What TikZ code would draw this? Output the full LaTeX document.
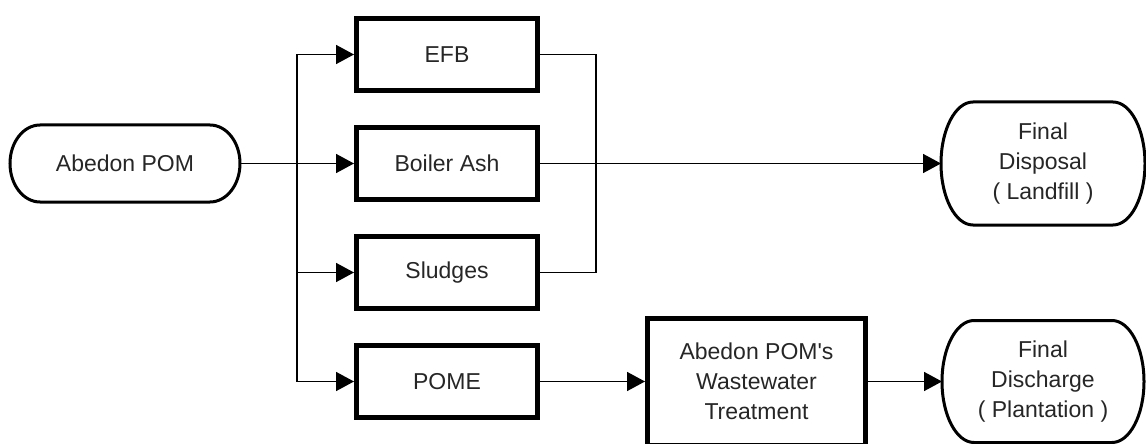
\documentclass[tikz,border=0pt]{standalone}
\usepackage{fontspec}
\setmainfont{Liberation Sans}
\usetikzlibrary{positioning,arrows.meta}
% outline with elliptic ends round a node: name, x radius, y radius
\newcommand{\capsule}[3]{%
  \draw[line width=1.5pt] ([xshift=#2]#1.north west) -- ([xshift=-#2]#1.north east)
    arc[start angle=90,end angle=-90,x radius=#2,y radius=#3]
    -- ([xshift=#2]#1.south west)
    arc[start angle=270,end angle=90,x radius=#2,y radius=#3] -- cycle;}

\begin{document}
\begin{tikzpicture}[x=0.5pt,y=0.5pt,>={Triangle[length=9pt,width=9.5pt]},
    every node/.style={font=\fontsize{11.5}{15}\selectfont,text=black!85,align=center},
    stream/.style={draw,line width=2.5pt,minimum width=90.5pt,minimum height=36pt},
    terminal/.style={outer sep=0pt,inner sep=0pt},
    flow/.style={->,line width=0.8pt}]
  \useasboundingbox (0,0) rectangle (1146,-444);
  \node[terminal,minimum width=115pt,minimum height=38.5pt] (pom) at (125,-163.5) {Abedon POM};
  \node[stream] (efb) at (447,-54.5) {EFB};
  \node[stream,below=16pt of efb] (ash) {Boiler Ash};
  \node[stream,below=16pt of ash] (sludge) {Sludges};
  \node[stream,below=16pt of sludge] (pome) {POME};
  \node[stream,minimum width=109pt,minimum height=63.5pt,right=52.5pt of pome] (wwt) {Abedon POM\textquotesingle s\\Wastewater\\Treatment};
  \node[terminal,minimum width=102pt,minimum height=61.5pt] (disp) at (1043,-163.5) {Final\\Disposal\\( Landfill )};
  \node[terminal,minimum width=101pt,minimum height=61pt,right=37pt of wwt] (dis) {Final\\Discharge\\( Plantation )};
  \capsule{pom}{15pt}{19.25pt}
  \capsule{disp}{16pt}{30.75pt}
  \capsule{dis}{16pt}{30.5pt}
  \coordinate (fork) at (297,-163.5);
  \coordinate (merge) at (596,-163.5);
  \draw[flow] (pom.east) -- (ash.west);
  \draw[flow] (fork) |- (efb.west);
  \draw[flow] (fork) |- (sludge.west);
  \draw[flow] (fork) |- (pome.west);
  \draw[line width=0.8pt] (efb.east) -| (merge);
  \draw[line width=0.8pt] (sludge.east) -| (merge);
  \draw[flow] (ash.east) -- (disp.west);
  \draw[flow] (pome.east) -- (wwt.west);
  \draw[flow] (wwt.east) -- (dis.west);
\end{tikzpicture}
\end{document}
